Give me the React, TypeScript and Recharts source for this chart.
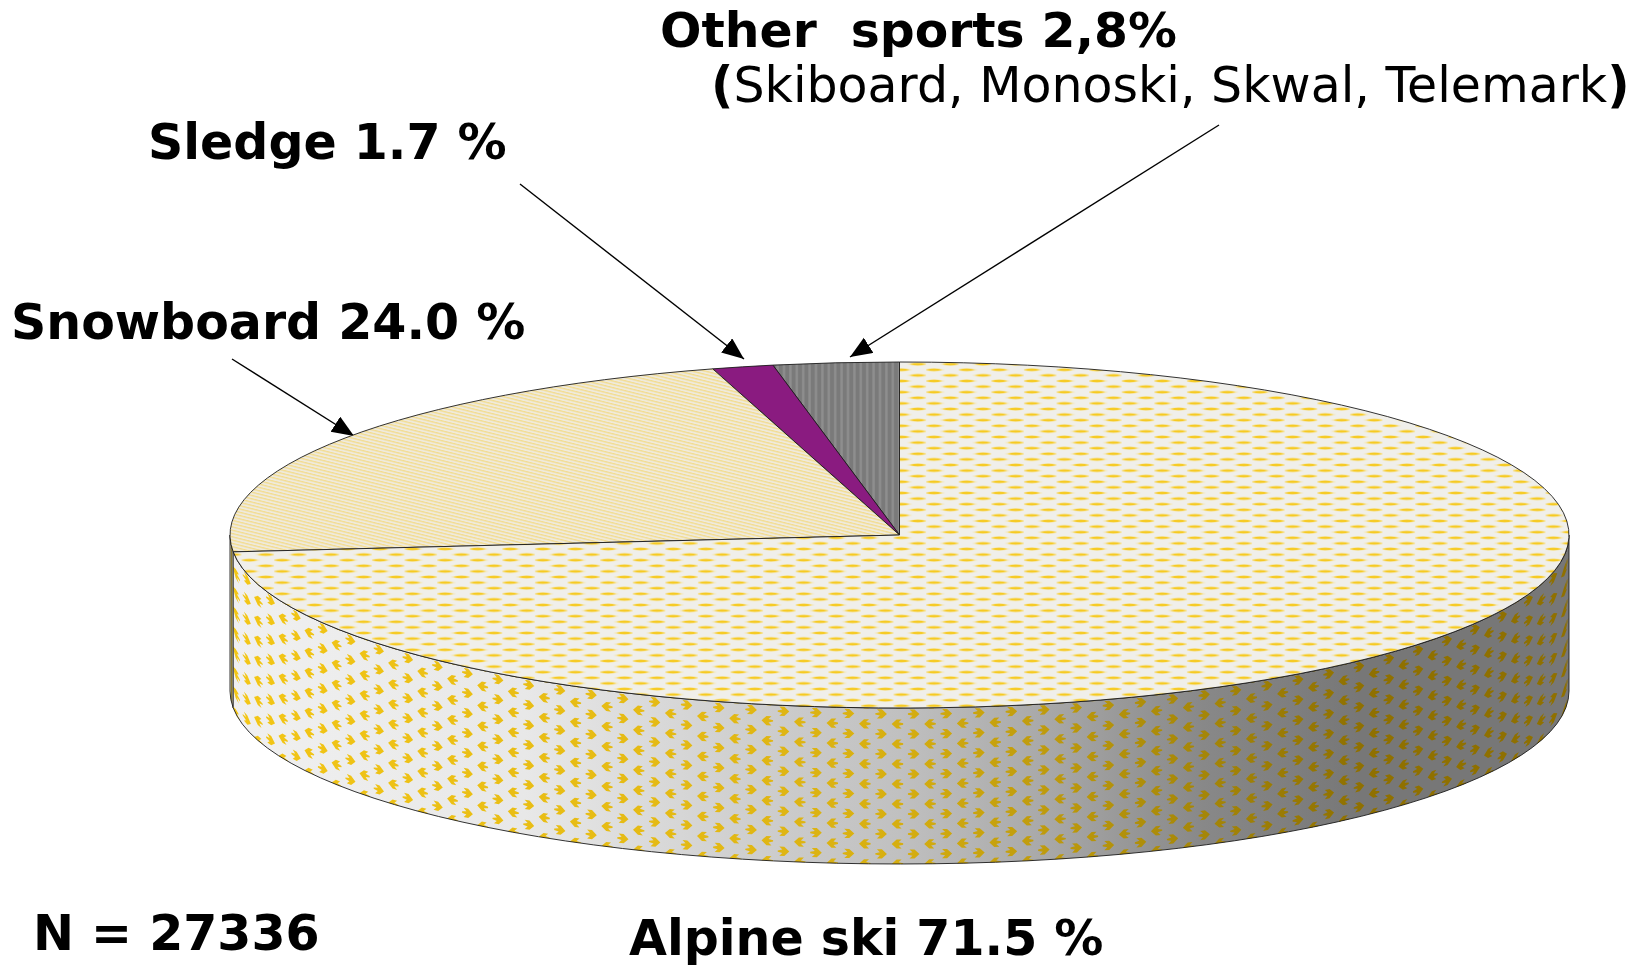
import React from "react";
import { PieChart, Pie } from "recharts";

// Chart data
const sliceNames = ["Other sports", "Sledge", "Snowboard", "Alpine ski"];
const sliceValues = [2.8, 1.7, 24.0, 71.5];
const chartData = sliceNames.map((name, i) => ({ name, value: sliceValues[i] }));

const WIDTH = 1641;
const HEIGHT = 967;
const CX = 899.5;
const CY = 535;
const RX = 669.5;
const RY = 173;
const DEPTH = 156;
const SQUASH = RY / RX;

// the 3D view slightly warps angles: true pie angle (from 12 o'clock) -> drawn angle
const warpIn = [0, 10.08, 16.2, 102.6, 360];
const warpOut = [0, 10.9, 16.2, 95.6, 360];
const warp = (angle: number) => {
  const t = angle - 90;
  for (let i = 1; i < warpIn.length; i++) {
    if (t <= warpIn[i] + 1e-6) {
      const f = (t - warpIn[i - 1]) / (warpIn[i] - warpIn[i - 1]);
      return 90 + warpOut[i - 1] + f * (warpOut[i] - warpOut[i - 1]);
    }
  }
  return angle;
};

const rad = (d: number) => (d * Math.PI) / 180;

const topFills: Record<string, string> = {
  "Other sports": "url(#grayStripes)",
  Sledge: "#8a1b80",
  Snowboard: "url(#hatch)",
  "Alpine ski": "url(#lens)",
};

const TopSlice = (props: any) => {
  const { cx, cy, outerRadius, startAngle, endAngle, name } = props;
  const rx = outerRadius;
  const ry = outerRadius * SQUASH;
  const a = warp(startAngle);
  const b = warp(endAngle);
  const p = (d: number) => `${cx + rx * Math.cos(rad(d))},${cy - ry * Math.sin(rad(d))}`;
  const large = b - a > 180 ? 1 : 0;
  const d = `M${cx},${cy} L${p(a)} A${rx},${ry} 0 ${large} 0 ${p(b)} Z`;
  return <path d={d} fill={topFills[name]} stroke="#1c1c1c" strokeWidth={0.9} strokeLinejoin="round" />;
};

const chevron = [
  [-5.8, 0],
  [-0.8, -4.6],
  [4.2, -4.6],
  [1.2, -1.7],
  [5.8, -0.7],
  [5.8, 0.7],
  [1.2, 1.7],
  [4.2, 4.6],
  [-0.8, 4.6],
];

const WallSlice = (props: any) => {
  const { cx, cy, outerRadius, startAngle, endAngle, name } = props;
  const rx = outerRadius;
  const ry = outerRadius * SQUASH;
  const a = Math.max(warp(startAngle), 180);
  const b = Math.min(warp(endAngle), 360);
  if (a >= b) return null;
  const px = (d: number) => cx + rx * Math.cos(rad(d));
  const py = (d: number) => cy - ry * Math.sin(rad(d));
  const d =
    `M${px(a)},${py(a)} A${rx},${ry} 0 0 0 ${px(b)},${py(b)} ` +
    `L${px(b)},${py(b) + DEPTH} A${rx},${ry} 0 0 1 ${px(a)},${py(a) + DEPTH} Z`;
  if (name !== "Alpine ski") {
    return <path d={d} fill="url(#hatchDark)" stroke="#1c1c1c" strokeWidth={0.9} />;
  }
  const frontY = (x: number) => {
    const u = Math.min(1, Math.abs((x - cx) / rx));
    return cy + ry * Math.sqrt(1 - u * u);
  };
  // the texture wraps round the wall with only partial foreshortening
  const squeeze = (x: number) => {
    const u = Math.min(1, Math.abs((x - cx) / rx));
    return 0.45 + 0.55 * Math.sqrt(Math.sqrt(1 - u * u));
  };
  let marks = "";
  let col = 0;
  for (let x = px(a) + 3; x < px(b) + 4; col++) {
    const f = squeeze(x);
    const dir = col % 2 === 0 ? 1 : -1;
    const off = col % 2 === 0 ? 10 : 0;
    for (let row = -1; row < 9; row++) {
      const v = 6 + row * 20 + off;
      chevron.forEach(([lx, ly], k) => {
        const X = x + dir * lx * f;
        const Y = frontY(X) + v + ly;
        marks += `${k === 0 ? "M" : "L"}${X.toFixed(1)},${Y.toFixed(1)} `;
      });
      marks += "Z ";
    }
    x += 16.3 * f;
  }
  return (
    <g>
      <clipPath id="alpineWallClip">
        <path d={d} />
      </clipPath>
      <path d={d} fill="url(#wallShade)" />
      <path d={marks} fill="url(#chevShade)" clipPath="url(#alpineWallClip)" />
      <path d={d} fill="none" stroke="#1c1c1c" strokeWidth={0.9} />
    </g>
  );
};

const labelFont = "'DejaVu Sans', Verdana, sans-serif";
const arrows = [
  [232, 359, 354, 436],
  [520, 184, 744, 359],
  [1219, 125, 850, 357],
];

const Annotations = () => (
  <g fontFamily={labelFont} fill="#000">
    <text x={660} y={47} fontSize={48.8} fontWeight={700} style={{ whiteSpace: "pre" }}>
      {"Other  sports 2,8%"}
    </text>
    <text x={711} y={102} fontSize={49}>
      <tspan fontWeight={700}>(</tspan>
      <tspan>Skiboard, Monoski, Skwal, Telemark</tspan>
      <tspan fontWeight={700}>)</tspan>
    </text>
    <text x={148} y={159} fontSize={49} fontWeight={700}>Sledge 1.7 %</text>
    <text x={11} y={339} fontSize={49} fontWeight={700}>Snowboard 24.0 %</text>
    <text x={33} y={950} fontSize={49} fontWeight={700}>N = 27336</text>
    <text x={629} y={955} fontSize={49} fontWeight={700}>Alpine ski 71.5 %</text>
    {arrows.map(([x1, y1, x2, y2], i) => (
      <line key={i} x1={x1} y1={y1} x2={x2} y2={y2} stroke="#000" strokeWidth={1.4} markerEnd="url(#arrowHead)" />
    ))}
  </g>
);

export default function App() {
  return (
    <div style={{ position: "absolute", left: 0, top: 0, width: WIDTH, height: HEIGHT, overflow: "hidden", background: "#fff" }}>
      <PieChart width={WIDTH} height={HEIGHT} margin={{ top: 0, right: 0, bottom: 0, left: 0 }}>
        <defs>
          <pattern id="lens" width={32.6} height={11.2} patternUnits="userSpaceOnUse" x={CX - 6} y={CY}>
            <rect width={32.6} height={11.2} fill="#f0efea" />
            <path d="M-3,2.8 Q8,-0.4 19,2.8 Q8,6 -3,2.8 Z" fill="#f6e6a6" />
            <path d="M0,2.8 Q8,0.6 16,2.8 Q8,5 0,2.8 Z" fill="#f6ca22" />
            <path d="M13.3,8.4 Q24.3,5.2 35.3,8.4 Q24.3,11.6 13.3,8.4 Z" fill="#f6e6a6" />
            <path d="M16.3,8.4 Q24.3,6.2 32.3,8.4 Q24.3,10.6 16.3,8.4 Z" fill="#f6ca22" />
          </pattern>
          <pattern id="hatch" width={12} height={3.2} patternUnits="userSpaceOnUse" patternTransform="rotate(14)">
            <rect width={12} height={3.2} fill="#efeadc" />
            <rect width={12} height={1.3} fill="#f3dc8e" />
          </pattern>
          <pattern id="hatchDark" width={3} height={6} patternUnits="userSpaceOnUse">
            <rect width={3} height={6} fill="#e8dfb4" />
            <rect width={1} height={6} fill="#8c7a30" />
          </pattern>
          <pattern id="grayStripes" width={6.4} height={10} patternUnits="userSpaceOnUse">
            <rect width={6.4} height={10} fill="#7a7a7a" />
            <rect x={2} width={2.4} height={10} fill="#8e8e8e" />
          </pattern>
          <linearGradient id="wallShade" gradientUnits="userSpaceOnUse" x1={230} x2={1569} y1={0} y2={0}>
            <stop offset="0" stopColor="#f0f0f0" />
            <stop offset="0.22" stopColor="#e8e8e8" />
            <stop offset="0.376" stopColor="#d0d0d0" />
            <stop offset="0.5" stopColor="#c0c0c0" />
            <stop offset="0.61" stopColor="#a8a8a8" />
            <stop offset="0.727" stopColor="#888888" />
            <stop offset="0.844" stopColor="#777777" />
            <stop offset="1" stopColor="#777777" />
          </linearGradient>
          <linearGradient id="chevShade" gradientUnits="userSpaceOnUse" x1={230} x2={1569} y1={0} y2={0}>
            <stop offset="0" stopColor="#f3c616" />
            <stop offset="0.376" stopColor="#e2b814" />
            <stop offset="0.5" stopColor="#d6ae10" />
            <stop offset="0.727" stopColor="#a58608" />
            <stop offset="0.844" stopColor="#8f7000" />
            <stop offset="1" stopColor="#8f7000" />
          </linearGradient>
          <marker id="arrowHead" markerUnits="userSpaceOnUse" markerWidth={24} markerHeight={20} refX={22} refY={9} orient="auto">
            <path d="M0,0 L22,9 L0,18 Z" fill="#000" />
          </marker>
        </defs>
        <Pie
          data={chartData}
          dataKey="value"
          nameKey="name"
          cx={CX}
          cy={CY}
          innerRadius={0}
          outerRadius={RX}
          startAngle={90}
          endAngle={450}
          stroke="none"
          isAnimationActive={false}
          shape={WallSlice}
        />
        <Pie
          data={chartData}
          dataKey="value"
          nameKey="name"
          cx={CX}
          cy={CY}
          innerRadius={0}
          outerRadius={RX}
          startAngle={90}
          endAngle={450}
          stroke="none"
          isAnimationActive={false}
          shape={TopSlice}
        />
        <Annotations />
      </PieChart>
    </div>
  );
}
